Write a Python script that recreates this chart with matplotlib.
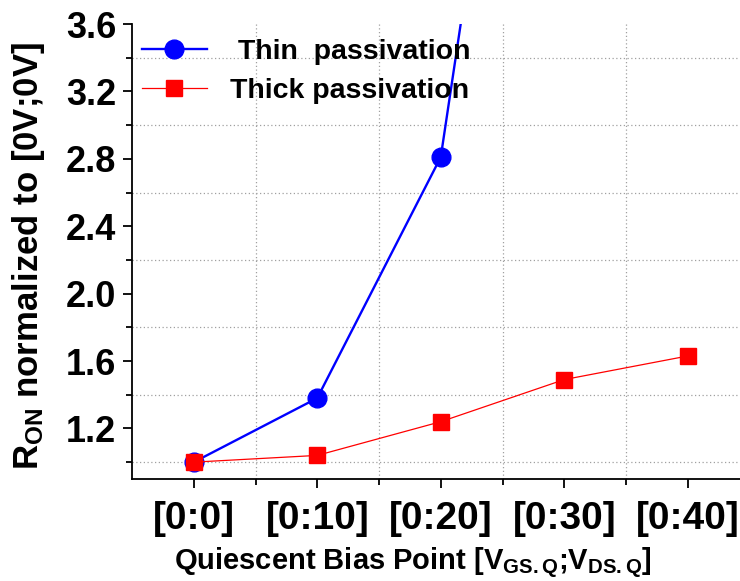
import matplotlib
import matplotlib.pyplot as plt
import numpy as np

matplotlib.use("Agg")

plt.rcParams["font.family"] = ["Liberation Sans", "DejaVu Sans"]
plt.rcParams["font.weight"] = "bold"
plt.rcParams["mathtext.fontset"] = "custom"
plt.rcParams["mathtext.rm"] = "Liberation Sans:bold"
plt.rcParams["mathtext.bf"] = "Liberation Sans:bold"
plt.rcParams["mathtext.it"] = "Liberation Sans:bold"
plt.rcParams["mathtext.default"] = "bf"

bias_points = ["[0:0]", "[0:10]", "[0:20]", "[0:30]", "[0:40]"]
thin_ron = [1.00, 1.38, 2.81, 7.70]
thick_ron = [1.00, 1.04, 1.24, 1.49, 1.63]

y_major = [1.2, 1.6, 2.0, 2.4, 2.8, 3.2, 3.6]
y_minor = [1.0, 1.4, 1.8, 2.2, 2.6, 3.0, 3.4]

fig = plt.figure(figsize=(7.40, 5.81), dpi=100, facecolor="white")
ax = fig.add_axes([132 / 740, 102 / 581, 617.5 / 740, 455 / 581])

x = np.arange(len(bias_points))
ax.plot(x[:len(thin_ron)], thin_ron, color="blue", lw=1.7, marker="o",
        ms=13.5, mec="blue", label=" Thin  passivation", zorder=3)
ax.plot(x, thick_ron, color="red", lw=0.9, marker="s",
        ms=12, mec="red", label="Thick passivation", zorder=4)

ax.set_xlim(-0.5, 4.5)
ax.set_ylim(0.9, 3.6)

ax.set_xticks(x, bias_points)
ax.set_xticks(x[:-1] + 0.5, minor=True)
ax.set_yticks(y_major)
ax.set_yticks(y_minor, minor=True)
ax.yaxis.set_major_formatter(matplotlib.ticker.FormatStrFormatter("%.1f"))

ax.grid(which="minor", linestyle=(0, (1, 2)), color="#a0a0a0", lw=0.9)
ax.grid(which="major", visible=False)

for side in ("top", "right"):
    ax.spines[side].set_visible(False)
for side in ("left", "bottom"):
    ax.spines[side].set_linewidth(1.3)

ax.tick_params(axis="both", which="major", width=1.3, length=6.5, pad=5)
ax.tick_params(axis="both", which="minor", width=1.3, length=4.5)
ax.tick_params(axis="y", which="major", labelsize=26)
ax.tick_params(axis="x", which="major", labelsize=28, pad=9)

ax.set_ylabel(r"R$_{ON}$ normalized to [0V;0V]", fontsize=25, fontweight="bold")
ax.yaxis.set_label_coords(-0.137, 0.49)
ax.set_xlabel(r"Quiescent Bias Point [V$_{GS.Q}$;V$_{DS.Q}$]", fontsize=21,
              fontweight="bold")
ax.xaxis.set_label_coords(0.455, -0.147)

leg = ax.legend(loc="upper left", bbox_to_anchor=(-0.012, 1.005), frameon=False,
                fontsize=20.5, handlelength=2.3, handletextpad=0.8, labelspacing=0.45,
                borderaxespad=0.2)

fig.savefig("out.png", dpi=100)
